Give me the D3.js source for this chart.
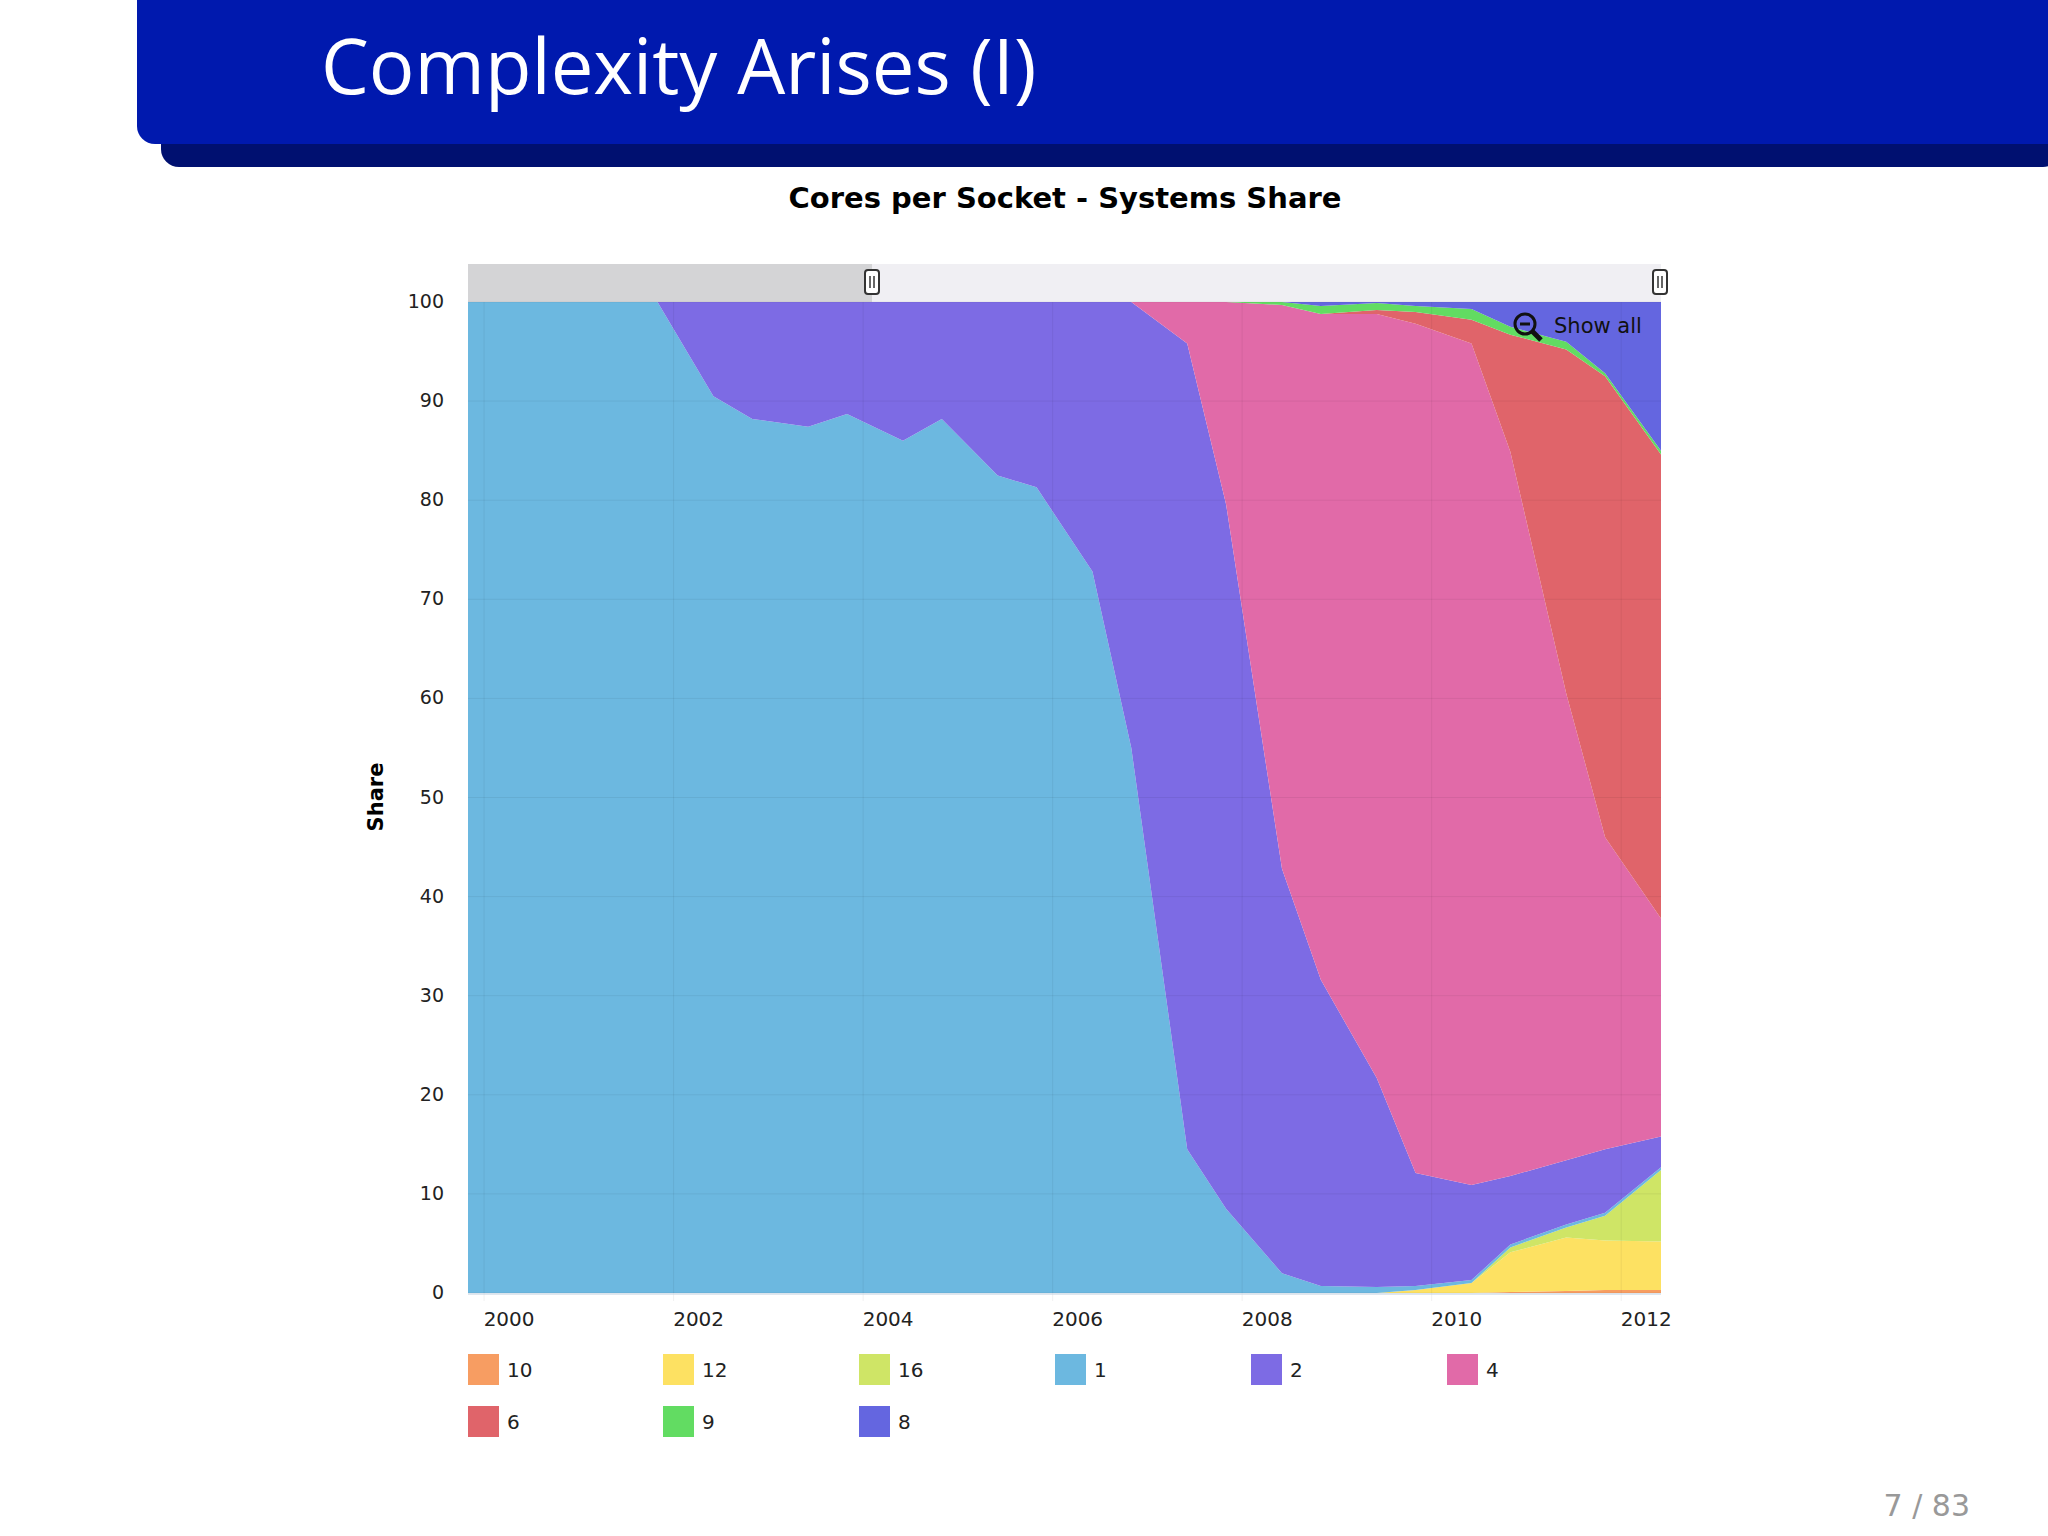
<!DOCTYPE html>
<html><head><meta charset="utf-8">
<script src="https://cdn.jsdelivr.net/npm/d3@7"></script>
<style>body{margin:0;background:#fff}svg{display:block}</style>
</head><body>
<svg id="c" width="2048" height="1536"></svg>
<script>
const times = [1999.83,2000.42,2000.83,2001.42,2001.83,2002.42,2002.83,2003.42,2003.83,2004.42,2004.83,2005.42,2005.83,2006.42,2006.83,2007.42,2007.83,2008.42,2008.83,2009.42,2009.83,2010.42,2010.83,2011.42,2011.83,2012.42];
const seriesNames = ["10","12","16","1","2","4","6","9","8"];
const s10 = [0,0,0,0,0,0,0,0,0,0,0,0,0,0,0,0,0,0,0,0,0,0,0.1,0.2,0.3,0.3];
const s12 = [0,0,0,0,0,0,0,0,0,0,0,0,0,0,0,0,0,0,0,0,0.3,1.0,4.0,5.4,5.0,4.9];
const s16 = [0,0,0,0,0,0,0,0,0,0,0,0,0,0,0,0,0,0,0,0,0,0,0.5,1.0,2.5,7.2];
const s1  = [100,100,100,100,100,90.5,88.2,87.4,88.7,86,88.2,82.5,81.3,72.8,55,14.5,8.5,2.0,0.7,0.6,0.4,0.3,0.3,0.3,0.3,0.3];
const s2  = [0,0,0,0,0,9.5,11.8,12.6,11.3,14,11.8,17.5,18.7,27.2,45,81.3,71.1,40.8,30.9,21.1,11.4,9.6,6.9,6.5,6.4,3.1];
const s4  = [0,0,0,0,0,0,0,0,0,0,0,0,0,0,0,4.2,20.4,56.9,67.2,77.1,85.7,84.9,73.1,47.1,31.5,22];
const s6  = [0,0,0,0,0,0,0,0,0,0,0,0,0,0,0,0,0,0,0,0.4,1.2,2.4,11.8,34.7,46.5,46.8];
const s9  = [0,0,0,0,0,0,0,0,0,0,0,0,0,0,0,0,0,0.3,0.8,0.7,0.6,1.1,0.8,0.8,0.3,0.4];
const s8  = [0,0,0,0,0,0,0,0,0,0,0,0,0,0,0,0,0,0,0.4,0.1,0.4,0.7,2.5,4.0,7.2,15.0];
const colors = ["#f79d62","#fde162","#cfe566","#6cb8e0","#7d6be4","#e16aa8","#e0646a","#62dc62","#6466e0"];
const yTicks = [0,10,20,30,40,50,60,70,80,90,100];
const xTicks = [2000,2002,2004,2006,2008,2010,2012];

const svg = d3.select("#c");
// title bar
svg.append("rect").attr("x",161).attr("y",120).attr("width",1900).attr("height",47).attr("rx",18).attr("fill","#001070");
svg.append("rect").attr("x",137).attr("y",-20).attr("width",1930).attr("height",164).attr("rx",18).attr("fill","#0019ae");
svg.append("text").attr("x",321).attr("y",94).attr("fill","#fff").attr("font-family","Open Sans, DejaVu Sans").attr("font-size",76).text("Complexity Arises (I)");
svg.append("text").attr("x",1065).attr("y",208).attr("text-anchor","middle").attr("font-family","DejaVu Sans").attr("font-weight","bold").attr("font-size",29).text("Cores per Socket - Systems Share");
svg.append("text").attr("x",1970).attr("y",1516).attr("text-anchor","end").attr("fill","#999").attr("font-family","DejaVu Sans").attr("font-size",30).text("7 / 83");

const L=468,R=1661,T=302,B=1293;
const x = d3.scaleLinear().domain([times[0],times[times.length-1]]).range([L,R]);
const y = d3.scaleLinear().domain([0,100]).range([B,T]);

// navigator
svg.append("rect").attr("x",L).attr("y",264).attr("width",R-L).attr("height",T-264).attr("fill","#f0eff3");
svg.append("rect").attr("x",L).attr("y",264).attr("width",872-L).attr("height",T-264).attr("fill","#d4d4d6");
[872,1660].forEach(hx=>{
  svg.append("rect").attr("x",hx-7).attr("y",270).attr("width",14).attr("height",24).attr("rx",3).attr("fill","#fff").attr("stroke","#333").attr("stroke-width",2);
  svg.append("line").attr("x1",hx-2).attr("x2",hx-2).attr("y1",276).attr("y2",288).attr("stroke","#333").attr("stroke-width",1.5);
  svg.append("line").attr("x1",hx+2).attr("x2",hx+2).attr("y1",276).attr("y2",288).attr("stroke","#333").attr("stroke-width",1.5);
});

const rows = times.map((t,i)=>({t,"10":s10[i],"12":s12[i],"16":s16[i],"1":s1[i],"2":s2[i],"4":s4[i],"6":s6[i],"9":s9[i],"8":s8[i]}));
const stack = d3.stack().keys(seriesNames)(rows);
const area = d3.area().x(d=>x(d.data.t)).y0(d=>y(d[0])).y1(d=>y(d[1]));
svg.append("g").selectAll("path").data(stack).join("path").attr("d",area).attr("fill",(d,i)=>colors[i]);

// grid
const g = svg.append("g");
yTicks.forEach(v=>{
  g.append("line").attr("x1",L).attr("x2",R).attr("y1",y(v)).attr("y2",y(v)).attr("stroke","#000").attr("stroke-opacity",0.06);
  g.append("text").attr("x",444).attr("y",y(v)+6).attr("text-anchor","end").attr("font-family","DejaVu Sans").attr("font-size",19).attr("fill","#222").text(v);
});
xTicks.forEach(v=>{
  g.append("line").attr("x1",x(v)).attr("x2",x(v)).attr("y1",T).attr("y2",B+8).attr("stroke","#000").attr("stroke-opacity",0.06);
  g.append("text").attr("x",x(v)+25).attr("y",1326).attr("text-anchor","middle").attr("font-family","DejaVu Sans").attr("font-size",20).attr("fill","#222").text(v);
});
svg.append("line").attr("x1",L).attr("x2",R).attr("y1",B+1).attr("y2",B+1).attr("stroke","#c0d0e0");
svg.append("text").attr("transform","translate(383,797) rotate(-90)").attr("text-anchor","middle").attr("font-family","DejaVu Sans").attr("font-weight","bold").attr("font-size",21).text("Share");

// show all
svg.append("circle").attr("cx",1525).attr("cy",324).attr("r",10).attr("fill","none").attr("stroke","#111").attr("stroke-width",3);
svg.append("line").attr("x1",1520).attr("x2",1530).attr("y1",324).attr("y2",324).attr("stroke","#111").attr("stroke-width",3);
svg.append("line").attr("x1",1532).attr("x2",1541).attr("y1",331).attr("y2",340).attr("stroke","#111").attr("stroke-width",5);
svg.append("text").attr("x",1554).attr("y",333).attr("font-family","DejaVu Sans").attr("font-size",21).attr("fill","#111").text("Show all");

// legend
const cols=[468,663,859,1055,1251,1447];
seriesNames.forEach((n,i)=>{
  const lx=cols[i%6], ly= i<6?1354:1406;
  svg.append("rect").attr("x",lx).attr("y",ly).attr("width",31).attr("height",31).attr("fill",colors[i]);
  svg.append("text").attr("x",lx+39).attr("y",ly+23).attr("font-family","DejaVu Sans").attr("font-size",20).attr("fill","#222").text(n);
});
</script>
</body></html>
